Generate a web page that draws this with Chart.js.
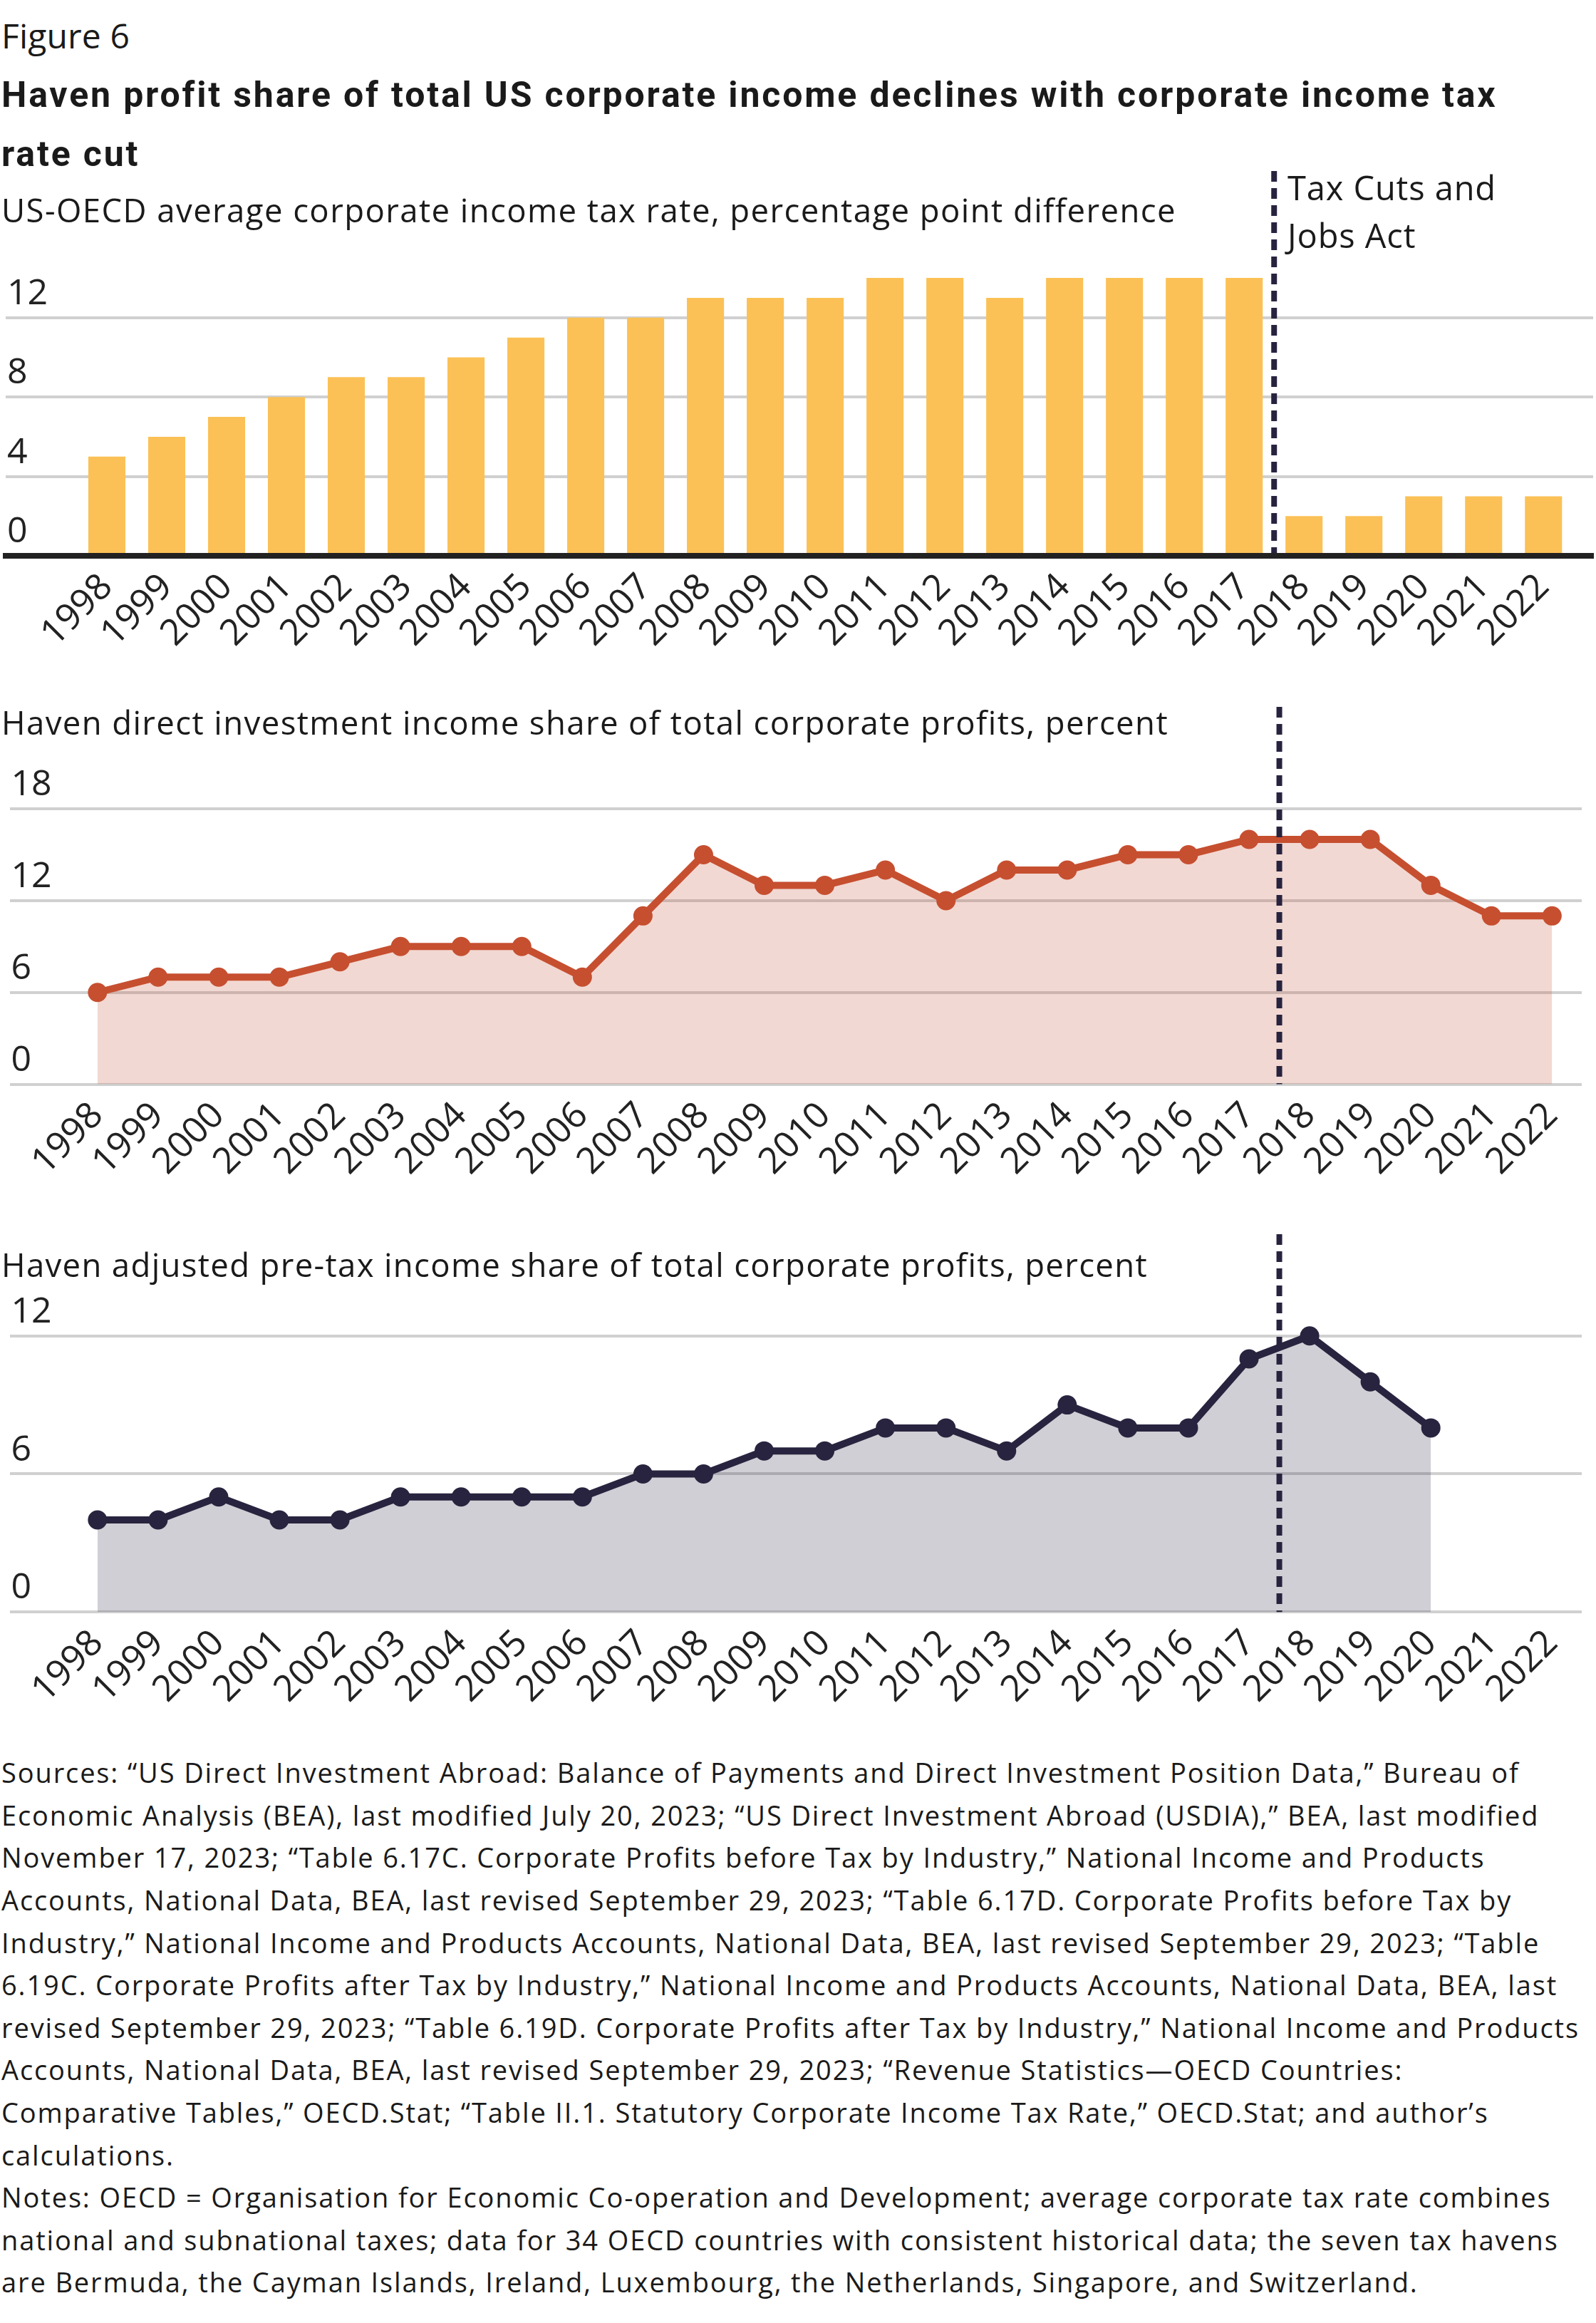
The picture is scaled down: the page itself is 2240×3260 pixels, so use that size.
<!DOCTYPE html>
<html>
<head>
<meta charset="utf-8">
<title>Figure 6</title>
<script src="https://cdn.jsdelivr.net/npm/chart.js@4.4.0/dist/chart.umd.min.js"></script>
<style>
body { margin: 0; background: #fff; }
#fig { position: relative; width: 2240px; height: 3260px; font-family: "Open Sans", sans-serif; color: #1a1a1a; overflow: hidden; }
#fig canvas { position: absolute; left: 0; }
.t { position: absolute; white-space: nowrap; }
</style>
</head>
<body>
<div id="fig">
	<canvas id="taxChart" width="2240" height="760" style="top:200px"></canvas>
	<canvas id="directChart" width="2240" height="740" style="top:960px"></canvas>
	<canvas id="pretaxChart" width="2240" height="740" style="top:1700px"></canvas>

	<div class="t" id="figNo">Figure 6</div>
	<div class="t" id="title" style="font-weight:bold">Haven profit share of total US corporate income declines with corporate income tax<br>rate cut</div>
	<div class="t" id="sub1">US-OECD average corporate income tax rate, percentage point difference</div>
	<div class="t" id="tcja">Tax Cuts and<br>Jobs Act</div>
	<div class="t" id="sub2">Haven direct investment income share of total corporate profits, percent</div>
	<div class="t" id="sub3">Haven adjusted pre-tax income share of total corporate profits, percent</div>
	<div class="t" id="notes">Sources: “US Direct Investment Abroad: Balance of Payments and Direct Investment Position Data,” Bureau of<br>Economic Analysis (BEA), last modified July 20, 2023; “US Direct Investment Abroad (USDIA),” BEA, last modified<br>November 17, 2023; “Table 6.17C. Corporate Profits before Tax by Industry,” National Income and Products<br>Accounts, National Data, BEA, last revised September 29, 2023; “Table 6.17D. Corporate Profits before Tax by<br>Industry,” National Income and Products Accounts, National Data, BEA, last revised September 29, 2023; “Table<br>6.19C. Corporate Profits after Tax by Industry,” National Income and Products Accounts, National Data, BEA, last<br>revised September 29, 2023; “Table 6.19D. Corporate Profits after Tax by Industry,” National Income and Products<br>Accounts, National Data, BEA, last revised September 29, 2023; “Revenue Statistics—OECD Countries:<br>Comparative Tables,” OECD.Stat; “Table II.1. Statutory Corporate Income Tax Rate,” OECD.Stat; and author’s<br>calculations.<br>Notes: OECD = Organisation for Economic Co-operation and Development; average corporate tax rate combines<br>national and subnational taxes; data for 34 OECD countries with consistent historical data; the seven tax havens<br>are Bermuda, the Cayman Islands, Ireland, Luxembourg, the Netherlands, Singapore, and Switzerland.</div>
</div>

<script>
// data
var years = [1998, 1999, 2000, 2001, 2002, 2003, 2004, 2005, 2006, 2007, 2008, 2009, 2010,
	2011, 2012, 2013, 2014, 2015, 2016, 2017, 2018, 2019, 2020, 2021, 2022];
var taxGap = [5, 6, 7, 8, 9, 9, 10, 11, 12, 12, 13, 13, 13, 14, 14, 13, 14, 14, 14, 14, 2, 2, 3, 3, 3];
var directShare = [6, 7, 7, 7, 8, 9, 9, 9, 7, 11, 15, 13, 13, 14, 12, 14, 14, 15, 15, 16, 16, 16, 13, 11, 11];
var pretaxShare = [4, 4, 5, 4, 4, 5, 5, 5, 5, 6, 6, 7, 7, 8, 8, 7, 9, 8, 8, 11, 12, 10, 8, null, null];
var taxTicks = [0, 4, 8, 12];
var directTicks = [0, 6, 12, 18];
var pretaxTicks = [0, 6, 12];
var tcjaYear = 2017.5;

// text placement by baseline, letter-spacing tuned so a reference line hits its width
var mc = document.createElement('canvas').getContext('2d');
function place(id, family, x, baseline, size, lh, weight, refLine, refWidth) {
	var el = document.getElementById(id);
	mc.font = (weight || 'normal') + ' ' + size + 'px ' + family;
	var m = mc.measureText('Hg');
	var asc = m.fontBoundingBoxAscent, desc = m.fontBoundingBoxDescent;
	el.style.fontFamily = family;
	el.style.left = x + 'px';
	el.style.fontSize = size + 'px';
	el.style.lineHeight = lh + 'px';
	el.style.top = (baseline - ((lh - (asc + desc)) / 2 + asc)) + 'px';
	if (refLine) {
		var w = mc.measureText(refLine).width;
		el.style.letterSpacing = ((refWidth - w) / refLine.length) + 'px';
	}
}
var os = '"Open Sans"';
place('figNo', os, 2, 68, 48, 60, 'normal', 'Figure 6', 180);
place('title', 'Roboto', 2, 150, 50, 83, 'bold',
	'Haven profit share of total US corporate income declines with corporate income tax', 2099);
place('sub1', os, 2, 312, 45.5, 60, 'normal',
	'US-OECD average corporate income tax rate, percentage point difference', 1649);
place('tcja', os, 1807, 281, 47, 67, 'normal', 'Tax Cuts and', 293);
place('sub2', os, 2, 1031, 45.5, 60, 'normal',
	'Haven direct investment income share of total corporate profits, percent', 1638);
place('sub3', os, 2, 1792, 45.5, 60, 'normal',
	'Haven adjusted pre-tax income share of total corporate profits, percent', 1609);
place('notes', os, 2, 2503, 38, 59.6, 'normal',
	'revised September 29, 2023; “Table 6.19D. Corporate Profits after Tax by Industry,” National Income and Products', 2215);

var tcjaLine = {
	id: 'tcjaLine',
	afterDatasetsDraw: function(chart) {
		var ctx = chart.ctx, area = chart.chartArea;
		var px = chart.scales.x.getPixelForValue(tcjaYear);
		ctx.save();
		ctx.strokeStyle = '#27233f';
		ctx.lineWidth = 8;
		ctx.setLineDash([15, 9]);
		ctx.beginPath();
		ctx.moveTo(px, area.top);
		ctx.lineTo(px, area.bottom);
		ctx.stroke();
		ctx.restore();
	}
};

function xAxis(min, max, height) {
	return {
		type: 'linear',
		min: min,
		max: max,
		offset: false,
		grid: { display: false, drawTicks: false },
		border: { display: false },
		afterBuildTicks: function(a) { a.ticks = years.map(function(y) { return { value: y }; }); },
		afterFit: function(a) { a.height = height; },
		ticks: {
			autoSkip: false, maxRotation: 45, minRotation: 45, padding: 14,
			color: '#222', font: { family: 'Open Sans', size: 51 },
			callback: function(v) { return String(v); }
		}
	};
}

function yAxis(max, tickVals) {
	return {
		min: 0,
		max: max,
		afterBuildTicks: function(a) { a.ticks = tickVals.map(function(v) { return { value: v }; }); },
		afterFit: function(a) { a.width = 0; },
		grid: { color: '#d0d0d0', lineWidth: 4, drawTicks: false },
		border: { display: false },
		ticks: { mirror: true, padding: 2, labelOffset: -33, color: '#222', font: { family: 'Open Sans', size: 50 } }
	};
}

function points(vals) {
	return years.map(function(y, i) { return { x: y, y: vals[i] }; });
}

var common = {
	responsive: false,
	animation: false,
	devicePixelRatio: 1,
	plugins: { legend: { display: false }, tooltip: { enabled: false } }
};

// chart 1: bars
var x1 = xAxis(1996.31, 2022.83, 180);
x1.border = { display: true, color: '#222', width: 8, z: 1 };
new Chart(document.getElementById('taxChart'), {
	type: 'bar',
	data: {
		datasets: [{
			data: points(taxGap),
			backgroundColor: '#fbc156',
			borderWidth: 0,
			categoryPercentage: 1,
			barPercentage: 0.62
		}]
	},
	options: Object.assign({}, common, {
		layout: { padding: { top: 40, left: 8, right: 4, bottom: 0 } },
		scales: { x: x1, y: yAxis(19.39, taxTicks) }
	}),
	plugins: [tcjaLine]
});

function lineSet(vals, color, fill) {
	return {
		data: points(vals),
		borderColor: color,
		backgroundColor: fill,
		fill: 'origin',
		borderWidth: 10,
		tension: 0,
		pointRadius: 13.5,
		pointHoverRadius: 13.5,
		pointBorderWidth: 0,
		pointBackgroundColor: color
	};
}

// chart 2
new Chart(document.getElementById('directChart'), {
	type: 'line',
	data: { datasets: [lineSet(directShare, '#c64f30', 'rgba(198,79,48,0.22)')] },
	options: Object.assign({}, common, {
		layout: { padding: { top: 24.5, left: 8, right: 20, bottom: 0 } },
		scales: { x: xAxis(1996.55, 2022.49, 178.4), y: yAxis(24.66, directTicks) }
	}),
	plugins: [tcjaLine]
});

// chart 3
new Chart(document.getElementById('pretaxChart'), {
	type: 'line',
	data: { datasets: [lineSet(pretaxShare, '#28243f', 'rgba(40,36,63,0.22)')] },
	options: Object.assign({}, common, {
		layout: { padding: { top: 25, left: 8, right: 20, bottom: 0 } },
		scales: { x: xAxis(1996.55, 2022.49, 177.8), y: yAxis(16.42, pretaxTicks) }
	}),
	plugins: [tcjaLine]
});
</script>
</body>
</html>
